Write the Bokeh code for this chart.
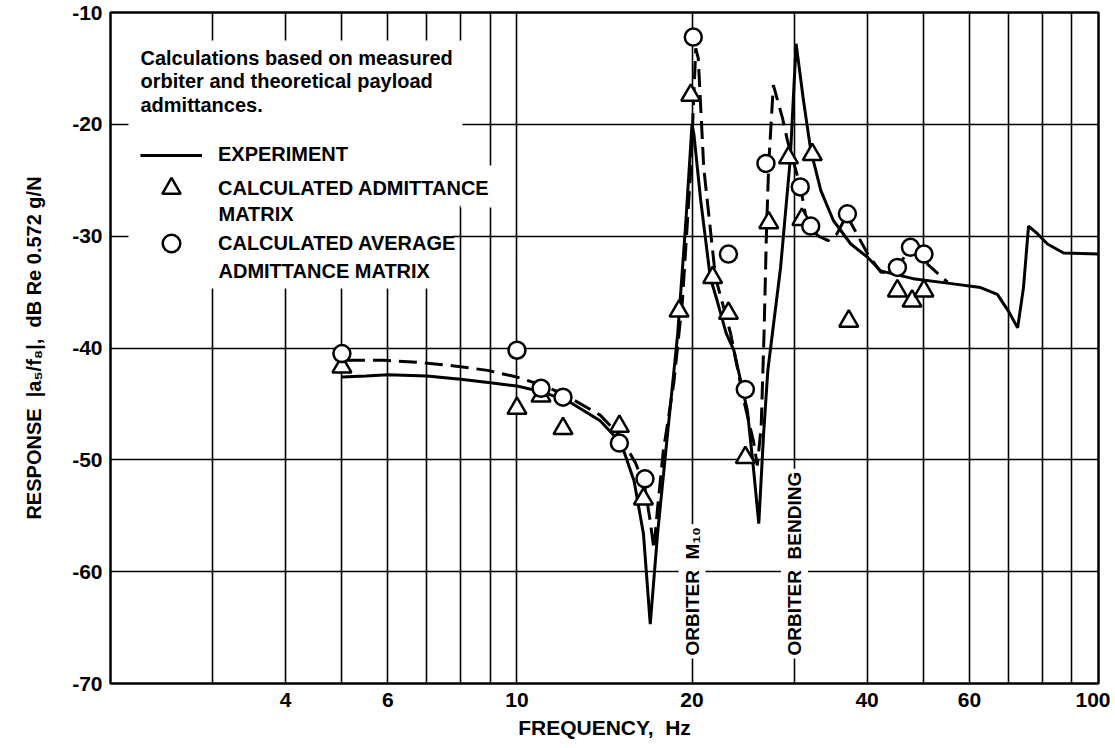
from bokeh.plotting import figure
from bokeh.models import FixedTicker, Label, Legend, LegendItem, BoxAnnotation
from bokeh.embed import file_html
from bokeh.resources import INLINE

# ---- data ----
exp_freq = [5.0, 5.5, 6.0, 7.0, 8.0, 9.0, 10.0, 11.0, 12.2, 13.9, 15.1, 15.9, 16.5, 16.95, 17.45,
            18.15, 18.9, 19.5, 20.0, 20.15, 20.7, 21.5, 22.1, 22.9, 23.6, 24.9, 25.5, 26.05, 26.55,
            27.0, 28.4, 29.5, 30.2, 30.5, 31.1, 32.0, 33.3, 35.0, 37.5, 40.1, 42.2, 48.0, 55.0,
            62.7, 67.0, 70.0, 72.6, 74.3, 75.8, 78.6, 81.7, 87.1, 100.0]
exp_db = [-42.6, -42.5, -42.4, -42.5, -42.8, -43.1, -43.4, -43.9, -44.7, -46.5, -48.5, -51.9, -56.6,
          -64.7, -56.6, -47.7, -38.7, -29.0, -20.0, -20.9, -26.8, -33.7, -35.8, -38.7, -40.2, -45.6,
          -50.7, -55.7, -47.7, -42.0, -32.8, -23.2, -12.8, -14.5, -17.9, -22.3, -25.9, -28.6, -30.7,
          -31.9, -33.1, -33.8, -34.2, -34.6, -35.2, -36.7, -38.2, -34.6, -29.1, -29.8, -30.7, -31.5,
          -31.6]

avg_freq = [5.1, 5.9, 6.8, 7.8, 8.9, 10.0, 11.0, 12.0, 13.9, 15.0, 16.0, 16.6, 16.95, 17.2, 17.45,
            17.85, 18.6, 19.25, 19.9, 20.3, 20.5, 20.95, 21.95, 23.3, 24.55, 25.5, 25.9, 26.3, 26.6,
            26.85, 27.1, 27.6, 28.6, 29.2, 30.7, 31.4, 32.0, 33.0, 34.3, 35.5, 37.0, 37.5, 40.1,
            42.2, 43.5, 45.1, 47.5, 50.1, 50.8, 55.0]
avg_db = [-41.1, -41.1, -41.3, -41.6, -42.0, -42.6, -43.3, -44.1, -46.0, -47.8, -50.3, -52.5, -55.5,
          -58.0, -54.3, -49.2, -43.2, -35.8, -24.0, -13.2, -14.1, -23.9, -33.7, -38.7, -44.7, -48.3,
          -50.5, -47.0, -38.7, -29.8, -23.5, -16.5, -19.4, -21.5, -25.5, -28.3, -29.3, -30.0, -30.4,
          -29.8, -28.0, -28.8, -31.6, -33.2, -33.3, -32.8, -31.0, -31.6, -32.5, -34.1]

tri_freq = [5.0, 10.0, 11.0, 12.0, 15.0, 16.5, 19.0, 19.9, 21.7, 23.1, 24.7, 27.1, 29.3, 30.9,
            32.2, 37.2, 45.1, 47.8, 50.1]
tri_db = [-41.7, -45.4, -44.3, -47.2, -47.0, -53.5, -36.7, -17.4, -33.7, -36.9, -49.8, -28.8,
          -23.0, -28.5, -22.7, -37.6, -34.9, -35.8, -34.9]

circ_freq = [5.0, 10.0, 11.0, 12.0, 15.0, 16.6, 20.1, 23.1, 24.7, 26.8, 30.7, 32.0, 37.0, 45.1,
             47.5, 50.1]
circ_db = [-40.5, -40.2, -43.6, -44.4, -48.5, -51.7, -12.2, -31.6, -43.7, -23.5, -25.6, -29.1,
           -28.0, -32.8, -31.0, -31.6]

x_ticks = [4, 6, 10, 20, 40, 60, 100]
x_tick_labels = ["4", "6", "10", "20", "40", "60", "100"]
x_grid = [3, 4, 5, 6, 7, 8, 9, 10, 20, 30, 40, 50, 60, 70, 80, 90, 100]
y_ticks = [-70, -60, -50, -40, -30, -20, -10]
y_tick_labels = ["-70", "-60", "-50", "-40", "-30", "-20", "-10"]
y_grid = [-60, -50, -40, -30, -20]

FONT = "Liberation Sans"
NB = "\u00a0"

p = figure(frame_width=988, frame_height=671, x_axis_type="log", x_range=(2, 100),
           y_range=(-70, -10), output_backend="svg", toolbar_location=None,
           min_border_left=110, min_border_right=12, min_border_top=12, min_border_bottom=58)
p.background_fill_color = "white"
p.border_fill_color = "white"
p.outline_line_color = "black"
p.outline_line_width = 2.5

# axes
p.xaxis.ticker = FixedTicker(ticks=x_ticks)
p.xaxis.major_label_overrides = {t: s for t, s in zip(x_ticks, x_tick_labels)}
p.yaxis.ticker = FixedTicker(ticks=y_ticks)
p.yaxis.major_label_overrides = {t: s for t, s in zip(y_ticks, y_tick_labels)}
for ax in p.axis:
    ax.axis_line_color = None
    ax.major_tick_line_color = None
    ax.minor_tick_line_color = None
    ax.major_tick_in = 0
    ax.major_tick_out = 0
    ax.minor_tick_in = 0
    ax.minor_tick_out = 0
    ax.major_label_text_font = FONT
    ax.major_label_text_font_style = "bold"
    ax.major_label_text_font_size = "21px"
    ax.major_label_text_color = "black"
    ax.axis_label_text_color = "black"
    ax.axis_label_text_font = FONT
    ax.axis_label_text_font_style = "bold"
p.xaxis.major_label_standoff = 9
p.yaxis.major_label_standoff = 8
p.xaxis.axis_label = "FREQUENCY," + NB + " Hz"
p.xaxis.axis_label_text_font_size = "21px"
p.xaxis.axis_label_standoff = 6
p.yaxis.axis_label = ("RESPONSE" + NB + " |a\u2085/f\u2088|," + NB + " dB Re 0.572 g/N")
p.yaxis.axis_label_text_font_size = "20px"
p.yaxis.axis_label_standoff = 24

# grid
p.xgrid.ticker = FixedTicker(ticks=x_grid)
p.ygrid.ticker = FixedTicker(ticks=y_grid)
for g in (p.xgrid, p.ygrid):
    g.grid_line_color = "black"
    g.grid_line_width = 1.6
    g.grid_line_alpha = 1.0

# curves and points
r_exp = p.line(exp_freq, exp_db, line_color="black", line_width=3)
p.line(avg_freq, avg_db, line_color="black", line_width=3, line_dash="18 8")
r_tri = p.scatter(tri_freq, tri_db, marker="triangle", size=19, fill_color="white",
                  line_color="black", line_width=2.5)
r_circ = p.scatter(circ_freq, circ_db, marker="circle", size=17, fill_color="white",
                   line_color="black", line_width=2.5)

# white mask behind the note / legend (frame-relative screen px)
def mask(left, right, top, bottom):
    p.add_layout(BoxAnnotation(left=left, right=right, top=top, bottom=bottom,
                               left_units="screen", right_units="screen",
                               top_units="screen", bottom_units="screen",
                               fill_color="white", fill_alpha=1, line_alpha=0))

mask(18, 352, 643, 478)
mask(18, 342, 480, 395)
mask(350, 386, 518, 476)

note_lines = ["Calculations based on measured", "orbiter and theoretical payload", "admittances."]
for i, t in enumerate(note_lines):
    p.add_layout(Label(x=30, y=626 - 23.5 * i, x_units="screen", y_units="screen", text=t,
                       text_font=FONT, text_font_style="bold", text_font_size="20px",
                       text_baseline="middle", text_align="left", text_color="black"))

def make_legend(label, renderer, y, gh):
    leg = Legend(items=[LegendItem(label=label, renderers=[renderer])], location=(30, y),
                 orientation="vertical", glyph_width=62, glyph_height=gh, label_height=20,
                 label_standoff=16, padding=0, margin=0, spacing=0,
                 border_line_alpha=0, background_fill_alpha=0,
                 label_text_font=FONT, label_text_font_style="bold", label_text_font_size="20px",
                 label_text_color="black")
    p.add_layout(leg)

make_legend("EXPERIMENT", r_exp, 517, 20)
make_legend("CALCULATED ADMITTANCE", r_tri, 472, 46)
make_legend("CALCULATED AVERAGE", r_circ, 418, 44)

for t, yc in [("MATRIX", 213), ("ADMITTANCE MATRIX", 270)]:
    p.add_layout(Label(x=108, y=683 - yc, x_units="screen", y_units="screen", text=t,
                       text_font=FONT, text_font_style="bold", text_font_size="20px",
                       text_baseline="middle", text_align="left", text_color="black"))

# rotated resonance labels on the 20 Hz and 30 Hz grid lines
for fx, t in [(20, "ORBITER" + NB + " M\u2081\u2080"), (30, "ORBITER" + NB + " BENDING")]:
    p.add_layout(Label(x=fx, y=25, x_units="data", y_units="screen", text=t, angle=90,
                       angle_units="deg", text_font=FONT, text_font_style="bold",
                       text_font_size="19px", text_align="left", text_baseline="middle",
                       text_color="black", background_fill_color="white",
                       background_fill_alpha=1, padding=3))

open("out.html", "w").write(file_html(p, INLINE))
